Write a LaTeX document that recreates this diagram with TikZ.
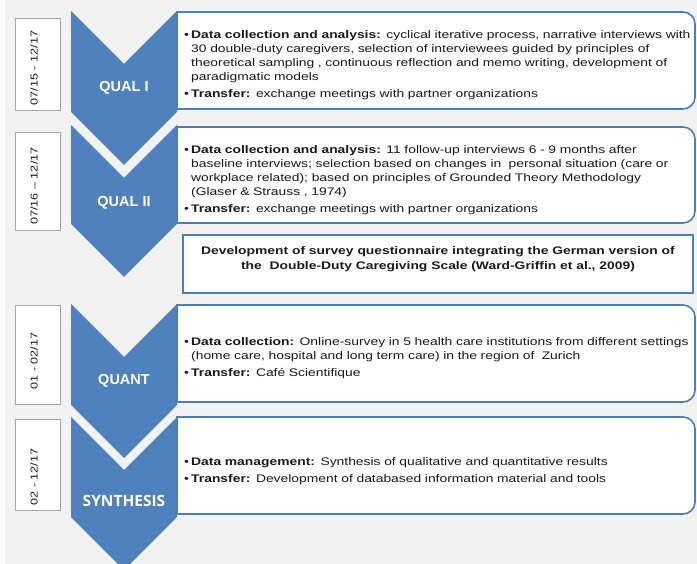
\documentclass[tikz,border=0pt]{standalone}
\usepackage{fontspec}
\setmainfont{Liberation Sans}[FakeStretch=1.26]
\newfontfamily\lblfont{Liberation Sans}
\newfontfamily\synfont{Open Sans}
\definecolor{chev}{HTML}{4F81BD}
\definecolor{bord}{HTML}{4A7EBB}
\definecolor{bg}{HTML}{F2F2F2}
\definecolor{txt}{HTML}{1A1A1A}
\newcommand{\bitem}[2]{\par\hangindent=7pt\hangafter=1\noindent\makebox[7pt][l]{\textbullet}\textbf{#1}#2}
\newcommand{\chevshape}[2]{\fill[chev] (71,#1) -- (124,#1+53) -- (177,#1) -- (177,#2) -- (124,#2+53) -- (71,#2) -- cycle;}
\newcommand{\rbox}[2]{\path[txtbox] (177,#1) -- (683,#1) arc[start angle=-90,end angle=0,radius=12] -- (695,#2-12) arc[start angle=0,end angle=90,radius=12] -- (177,#2) -- cycle;}
\newcommand{\dbox}[2]{\fill[gray!55!black] (16,#1+1) rectangle (61,#2+1); \filldraw[datebox] (15,#1) rectangle (60,#2);}
\tikzset{
  txtbox/.style={fill=white, draw=bord, line width=1.6pt},
  datebox/.style={fill=white, draw=gray!70, line width=0.6pt},
  datetxt/.style={rotate=90, font=\fontsize{10}{12}\selectfont, inner sep=0, text=txt},
  lbl/.style={text=white, font=\lblfont\bfseries\fontsize{14.5}{16}\selectfont, inner sep=0},
  body/.style={anchor=west, inner sep=0, text width=515pt, align=left, text=txt,
    font=\fontsize{11}{14}\selectfont\setlength{\parskip}{3pt}},
}
\begin{document}
\begin{tikzpicture}[x=1pt,y=-1pt]
\useasboundingbox (0,0) rectangle (697,564);
\fill[white] (0,0) rectangle (697,564);
\fill[bg] (5,0) rectangle (697,564);
\begin{scope}
\clip (0,0) rectangle (697,564);
% chevrons
\chevshape{11}{112}
\chevshape{125}{224}
\chevshape{304}{405}
\chevshape{417}{517}
\end{scope}
% text boxes
\rbox{12}{109}
\rbox{127}{223}
\rbox{305}{402}
\rbox{417}{514}
\draw[txtbox] (183,235) rectangle (693,293);
% date boxes
\dbox{18}{110}
\dbox{132}{230}
\dbox{305}{404}
\dbox{419}{510}
\node[datetxt] (d1) at (34,68) {07/15 - 12/17};
\node[datetxt] (d2) at (34,186) {07/16 -- 12/17};
\node[datetxt] (d3) at (34,361) {01 - 02/17};
\node[datetxt] (d4) at (34,477) {02 - 12/17};
% chevron labels
\node[lbl] (l1) at (124,88) {QUAL I};
\node[lbl] (l2) at (124,202.5) {QUAL II};
\node[lbl] (l3) at (124,381) {QUANT};
\node[lbl, font=\synfont\bfseries\fontsize{15.5}{17}\selectfont] (l4) at (124,501) {SYNTHESIS};
% body texts
\node[body] (t1) at (184,60.5) {%
\bitem{Data collection and analysis:}{ cyclical iterative process, narrative interviews with\newline
30 double-duty caregivers, selection of interviewees guided by principles of\newline
theoretical sampling , continuous reflection and memo writing, development of\newline
paradigmatic models}
\bitem{Transfer:}{ exchange meetings with partner organizations}};
\node[body] (t2) at (184,175.5) {%
\bitem{Data collection and analysis:}{ 11 follow-up interviews 6 - 9 months after\newline
baseline interviews; selection based on changes in\ \ personal situation (care or\newline
workplace related); based on principles of Grounded Theory Methodology\newline
(Glaser \& Strauss , 1974)}
\bitem{Transfer:}{ exchange meetings with partner organizations}};
\node[align=center, inner sep=0, text=txt, font=\bfseries\fontsize{11}{15}\selectfont] (s) at (438,259.5)
 {Development of survey questionnaire integrating the German version of\\
  the\ \ Double-Duty Caregiving Scale (Ward-Griffin et al., 2009)};
\node[body] (t3) at (184,354) {%
\bitem{Data collection:}{ Online-survey in 5 health care institutions from different settings\newline
(home care, hospital and long term care) in the region of\ \ Zurich}
\bitem{Transfer:}{ Café Scientifique}};
\node[body] (t4) at (184,467) {%
\bitem{Data management:}{ Synthesis of qualitative and quantitative results}
\bitem{Transfer:}{ Development of databased information material and tools}};
\end{tikzpicture}
\end{document}
